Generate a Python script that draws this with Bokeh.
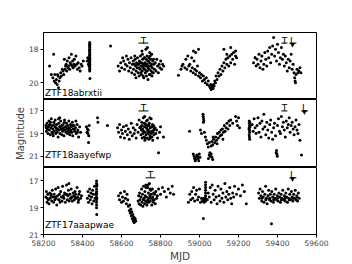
from bokeh.plotting import figure
from bokeh.layouts import column
from bokeh.models import Range1d, FixedTicker, Label
from bokeh.embed import file_html
from bokeh.resources import INLINE

# ---------------- data ----------------
top_points = [
    (58231, 19.0), (58240, 19.5), (58248, 19.7), (58252, 18.3), (58255, 19.9), (58258, 19.5), (58262, 20.0),
    (58266, 19.8), (58270, 20.1), (58272, 19.5), (58275, 19.6), (58277, 20.3), (58280, 19.9), (58284, 19.7),
    (58288, 19.4), (58292, 19.6), (58296, 19.2), (58300, 19.3), (58304, 19.5), (58307, 18.6), (58310, 19.2),
    (58313, 19.0), (58316, 18.9), (58319, 19.3), (58322, 18.7), (58325, 19.1), (58328, 19.0), (58331, 18.5),
    (58334, 19.2), (58337, 18.8), (58340, 18.9), (58343, 18.3), (58346, 19.0), (58349, 18.7), (58352, 19.1),
    (58355, 18.9), (58358, 18.6), (58362, 19.0), (58366, 18.4), (58370, 18.9), (58374, 19.2), (58378, 18.8),
    (58383, 19.1), (58388, 19.3), (58393, 18.9), (58398, 19.0), (58404, 18.7),
    (58424, 18.7), (58427, 18.5), (58430, 18.9), (58432, 18.6), (58434, 19.0),
    (58437, 17.6), (58437, 17.7), (58437, 17.75), (58437, 17.8), (58437, 17.9), (58437, 18.0), (58437, 18.05),
    (58437, 18.1), (58437, 18.2), (58437, 18.3), (58437, 18.35), (58437, 18.4), (58437, 18.5), (58437, 18.55),
    (58437, 18.6), (58437, 18.7), (58437, 18.75), (58437, 18.8), (58437, 18.9), (58437, 19.0), (58437, 19.1),
    (58437, 19.2), (58437, 19.3), (58438, 19.75),
    (58544, 17.8),
    (58583, 19.0), (58590, 19.3), (58596, 18.8), (58601, 19.1), (58606, 18.5), (58611, 18.7), (58616, 19.2),
    (58620, 18.9), (58625, 18.4), (58629, 19.0), (58633, 18.6), (58637, 19.3), (58641, 18.8), (58645, 19.1),
    (58649, 18.5), (58653, 19.4), (58656, 18.9),
    (58660, 18.7), (58662, 19.2), (58665, 18.9), (58667, 19.5), (58670, 18.6), (58672, 19.0), (58675, 19.3),
    (58677, 18.8), (58680, 19.1), (58682, 18.5), (58685, 19.4), (58687, 18.9), (58690, 19.6), (58692, 18.7),
    (58695, 19.2), (58697, 18.4), (58700, 19.0), (58702, 19.5), (58704, 18.8), (58706, 19.3), (58708, 18.6),
    (58710, 19.1), (58712, 18.9), (58714, 19.7), (58716, 18.5), (58718, 19.2), (58720, 18.8), (58722, 19.4),
    (58724, 19.0), (58726, 18.6), (58728, 19.6), (58730, 18.9), (58732, 19.3), (58734, 18.7), (58736, 19.8),
    (58738, 19.0), (58740, 18.5), (58742, 19.2), (58744, 18.8), (58746, 19.5), (58748, 19.0), (58750, 18.6),
    (58752, 19.3), (58754, 18.9), (58756, 19.6), (58758, 19.1), (58760, 18.7), (58763, 19.4), (58766, 18.9),
    (58769, 19.2),
    (58668, 18.4), (58674, 19.7), (58683, 18.9), (58689, 19.1), (58694, 18.8), (58699, 19.4), (58703, 19.0),
    (58707, 18.3), (58711, 19.6), (58715, 19.0), (58719, 18.5), (58723, 18.9), (58727, 19.3), (58731, 18.4),
    (58735, 19.1), (58739, 18.7), (58743, 19.5), (58747, 18.4), (58751, 19.0), (58755, 18.3), (58759, 19.4),
    (58764, 18.6), (58705, 18.1), (58725, 18.0), (58745, 18.2), (58733, 17.9),
    (58773, 18.8), (58777, 19.3), (58781, 18.6), (58785, 19.0), (58789, 19.4), (58793, 18.9), (58797, 19.1),
    (58801, 18.7), (58806, 19.2), (58811, 18.9), (58816, 19.0),
    (58892, 19.55), (58905, 19.2), (58910, 19.0), (58915, 18.9), (58925, 19.1), (58930, 18.6), (58935, 19.2),
    (58940, 18.4), (58945, 19.0), (58950, 18.9), (58955, 19.3), (58960, 18.5), (58963, 19.1), (58968, 19.4),
    (58972, 18.7), (58976, 19.2), (58980, 19.5), (58985, 19.3), (58990, 19.0), (58995, 19.6), (59000, 19.4),
    (59005, 19.7), (59010, 19.5), (59015, 19.9), (59020, 19.6), (59025, 19.8), (59030, 20.0), (59035, 19.7),
    (59040, 20.1), (59045, 19.9), (59050, 20.2), (59055, 20.3), (59058, 20.1), (59060, 20.4), (59063, 20.3),
    (59066, 20.2), (59070, 20.35), (59072, 20.1), (59075, 20.2), (59078, 19.9), (59082, 20.0), (59085, 19.6),
    (59090, 19.8), (59095, 19.4), (59100, 19.6), (59105, 19.2), (59110, 19.5), (59115, 19.0), (59120, 19.3),
    (59125, 18.8), (59130, 19.1), (59135, 18.6), (59140, 18.9), (59145, 18.5), (59150, 19.0), (59155, 18.4),
    (59160, 18.8), (59165, 18.3), (59170, 18.6), (59175, 18.2), (59180, 18.9), (59185, 18.4),
    (58969, 18.1), (58980, 18.2), (58995, 18.0), (59125, 18.0), (59140, 18.3), (59160, 17.9), (59185, 18.1),
    (59190, 18.5),
    (59277, 18.8), (59285, 18.5), (59290, 19.0), (59295, 18.6), (59300, 18.9), (59305, 18.3), (59310, 19.1),
    (59315, 18.7), (59320, 18.4), (59325, 19.2), (59330, 18.9), (59335, 18.2), (59340, 18.6), (59345, 19.0),
    (59350, 18.1), (59355, 18.5), (59360, 17.9), (59365, 18.8), (59370, 18.3), (59375, 17.8), (59380, 17.3),
    (59385, 18.4), (59390, 18.0), (59395, 18.7), (59400, 17.7), (59405, 18.2), (59410, 18.9), (59415, 18.5),
    (59420, 17.9), (59425, 18.6), (59430, 18.3), (59435, 19.0), (59440, 18.4), (59445, 18.8), (59450, 19.3),
    (59455, 18.6), (59460, 19.1), (59465, 18.7), (59470, 18.3), (59475, 19.2), (59480, 18.9), (59485, 19.4),
    (59488, 19.7), (59490, 19.9), (59492, 20.0), (59495, 19.5), (59500, 19.2), (59505, 19.4), (59510, 19.3),
    (59515, 19.1), (59520, 19.4),
]

mid_points = [
    (58212, 18.3), (58215, 18.8), (58218, 18.1), (58220, 18.6), (58223, 19.0), (58225, 18.4), (58228, 17.9),
    (58230, 18.7), (58233, 18.2), (58235, 19.1), (58238, 18.5), (58240, 17.7), (58243, 18.9), (58245, 18.3),
    (58248, 18.6), (58250, 19.2), (58253, 18.0), (58255, 18.8), (58258, 18.4), (58260, 17.8), (58263, 19.0),
    (58265, 18.5), (58268, 18.2), (58270, 18.9), (58273, 18.6), (58275, 19.3), (58278, 18.1), (58280, 18.7),
    (58283, 18.4), (58285, 19.0), (58288, 17.9), (58290, 18.6), (58293, 18.3), (58295, 19.1), (58298, 18.8),
    (58300, 18.2), (58303, 18.5), (58305, 19.2), (58308, 17.8), (58310, 18.7), (58313, 18.4), (58315, 18.9),
    (58318, 18.1), (58320, 18.6), (58323, 19.0), (58325, 18.3), (58328, 18.8), (58330, 17.9), (58333, 18.5),
    (58335, 19.1), (58338, 18.2), (58340, 18.7), (58343, 18.4), (58345, 18.9), (58348, 18.0), (58350, 19.2),
    (58353, 18.6), (58356, 18.3), (58360, 18.8), (58364, 18.5), (58368, 19.0), (58372, 18.2), (58376, 18.7),
    (58380, 19.3), (58385, 18.4), (58390, 18.9),
    (58214, 18.5), (58227, 18.3), (58236, 18.0), (58247, 19.0), (58257, 18.2), (58267, 18.7), (58277, 17.7),
    (58287, 18.4), (58297, 18.6), (58307, 18.0), (58317, 18.4), (58327, 18.6), (58337, 18.9), (58347, 18.3),
    (58358, 18.6), (58366, 17.9), (58374, 18.9), (58283, 17.6),
    (58420, 18.4), (58423, 18.9), (58425, 18.6), (58428, 19.0), (58430, 18.7), (58432, 19.2), (58434, 18.3),
    (58431, 19.8), (58477, 17.6), (58479, 18.0), (58528, 18.3),
    (58580, 18.5), (58585, 18.9), (58590, 18.2), (58595, 19.3), (58600, 18.7), (58605, 19.0), (58610, 18.4),
    (58615, 19.4), (58620, 18.8), (58625, 18.3), (58630, 19.1), (58635, 18.6), (58640, 19.5), (58645, 18.9),
    (58650, 18.1), (58655, 19.2), (58660, 18.5), (58665, 19.0), (58670, 18.7), (58675, 19.4), (58680, 18.2),
    (58685, 18.9), (58690, 17.8), (58694, 18.5),
    (58698, 18.4), (58700, 19.1), (58702, 18.7), (58704, 18.0), (58706, 19.4), (58708, 18.6), (58710, 19.0),
    (58712, 17.6), (58714, 18.8), (58716, 19.3), (58718, 18.4), (58720, 19.6), (58722, 18.9), (58724, 18.2),
    (58726, 19.1), (58728, 17.9), (58730, 18.6), (58732, 19.4), (58734, 18.3), (58736, 19.0), (58738, 18.7),
    (58740, 19.5), (58742, 18.1), (58744, 18.9), (58746, 19.2), (58748, 18.5), (58750, 19.0), (58752, 17.7),
    (58754, 18.8), (58756, 19.3), (58758, 18.4), (58760, 19.6), (58762, 18.9), (58764, 18.3), (58766, 19.1),
    (58768, 18.6),
    (58705, 18.3), (58711, 18.9), (58717, 18.1), (58723, 19.4), (58729, 18.5), (58735, 18.8), (58741, 18.3),
    (58747, 19.4), (58753, 18.9), (58759, 18.2), (58765, 18.7), (58719, 17.5), (58733, 17.8), (58745, 17.6),
    (58772, 18.5), (58776, 19.0), (58780, 18.7), (58785, 19.4), (58790, 20.7), (58795, 18.9), (58800, 18.4),
    (58815, 19.3),
    (58949, 18.8),
    (58968, 20.8), (58972, 21.0), (58975, 21.2), (58978, 21.4), (58980, 21.3), (58983, 21.1), (58986, 20.9),
    (58990, 21.0), (58993, 21.2), (58996, 21.4), (58999, 20.8), (59003, 21.1),
    (59046, 21.2), (59050, 20.9), (59053, 20.7), (59056, 21.0), (59060, 20.8), (59064, 21.1), (59068, 21.3),
    (59018, 17.3), (59019, 17.5), (59021, 17.7), (59022, 17.9), (59020, 18.0),
    (59005, 18.7), (59010, 19.0), (59025, 18.9), (59030, 19.3),
    (59035, 19.6), (59040, 19.9), (59045, 20.2), (59050, 19.8),
    (59060, 20.1), (59063, 19.7), (59068, 20.0), (59072, 19.5), (59078, 19.8), (59083, 19.3), (59087, 19.6),
    (59092, 19.0), (59097, 19.4), (59101, 18.9), (59106, 19.2), (59110, 18.7), (59114, 19.1), (59118, 18.6),
    (59123, 18.9), (59127, 18.3), (59131, 18.8), (59136, 18.5), (59141, 18.1), (59146, 18.6), (59151, 17.9),
    (59155, 18.3), (59070, 19.3), (59090, 19.9), (59120, 19.5),
    (59160, 17.8), (59170, 18.1), (59185, 17.5), (59190, 17.9), (59195, 18.3), (59200, 17.6), (59205, 18.5),
    (59255, 17.9), (59256, 18.1), (59257, 18.3), (59255, 18.5), (59256, 18.7), (59257, 18.9), (59255, 19.1),
    (59256, 19.3), (59257, 19.5), (59258, 18.0), (59254, 18.6), (59259, 18.4),
    (59270, 18.2), (59275, 18.8), (59280, 17.7), (59285, 18.5), (59290, 19.0), (59295, 18.3), (59300, 17.6),
    (59305, 18.9), (59310, 18.1), (59315, 19.3), (59320, 17.9), (59325, 18.6), (59330, 17.3), (59335, 18.4),
    (59340, 19.1), (59345, 18.0), (59350, 18.7), (59355, 19.4), (59360, 18.2), (59365, 17.8), (59370, 18.9),
    (59375, 19.5), (59380, 18.5), (59385, 18.1), (59390, 19.2), (59395, 20.5), (59397, 20.8), (59399, 21.0),
    (59393, 20.7), (59400, 18.3), (59405, 17.7), (59410, 18.8), (59415, 19.0), (59420, 17.5), (59425, 18.4),
    (59430, 18.0), (59435, 18.7), (59440, 19.3), (59445, 17.9), (59450, 18.5), (59455, 18.2), (59460, 17.6),
    (59465, 18.9), (59470, 18.3), (59475, 18.0), (59480, 18.6), (59485, 19.1), (59490, 18.4), (59495, 17.8),
    (59500, 18.7), (59505, 19.0), (59510, 18.2), (59515, 19.6), (59523, 20.9),
]

bot_points = [
    (58212, 18.2), (58215, 17.8), (58218, 18.6), (58222, 18.0), (58225, 18.4), (58228, 18.7), (58232, 17.9),
    (58235, 18.3), (58238, 18.1), (58242, 18.5), (58245, 17.7), (58248, 18.2), (58252, 18.6), (58255, 18.0),
    (58258, 18.4), (58262, 17.6), (58265, 18.3), (58268, 18.8), (58272, 18.1), (58275, 17.5), (58278, 18.4),
    (58282, 18.0), (58285, 18.6), (58288, 17.8), (58292, 18.2), (58295, 18.5), (58298, 17.4), (58302, 18.1),
    (58305, 18.3), (58308, 17.9), (58312, 18.6), (58315, 18.0), (58318, 17.3), (58322, 18.4), (58325, 18.1),
    (58328, 17.7), (58332, 18.5), (58335, 18.0), (58338, 18.3), (58342, 17.6), (58345, 18.2), (58348, 18.5),
    (58352, 17.9), (58355, 18.1), (58358, 18.4), (58362, 17.8), (58365, 18.0), (58368, 18.3), (58372, 17.5),
    (58375, 18.2), (58378, 18.6), (58382, 18.0), (58385, 17.8), (58390, 18.3), (58395, 18.1),
    (58220, 18.3), (58240, 18.0), (58260, 18.2), (58280, 18.4), (58300, 18.2), (58320, 18.0), (58340, 18.3),
    (58360, 18.2), (58380, 18.4), (58330, 17.2),
    (58425, 18.3), (58428, 17.8), (58431, 18.6), (58434, 18.1), (58437, 17.6), (58440, 18.4), (58443, 17.9),
    (58446, 18.2), (58449, 18.7), (58452, 17.7), (58455, 18.0), (58458, 18.5), (58461, 17.4), (58464, 18.3),
    (58467, 18.0),
    (58472, 17.0), (58472, 17.2), (58472, 17.4), (58472, 17.6), (58472, 17.8), (58472, 18.0), (58472, 18.2),
    (58472, 18.4), (58472, 18.6), (58472, 18.8), (58472, 19.0), (58473, 19.5), (58474, 17.3), (58471, 17.9),
    (58474, 18.3),
    (58585, 18.1), (58590, 18.4), (58595, 17.9), (58600, 18.6), (58605, 18.2), (58610, 18.5), (58615, 17.8),
    (58620, 18.3), (58625, 18.7), (58628, 18.0), (58632, 18.4),
    (58635, 18.9), (58640, 19.2), (58642, 18.8), (58645, 19.4), (58648, 19.1), (58650, 19.6), (58653, 19.3),
    (58655, 19.8), (58658, 19.5), (58660, 20.0), (58663, 19.7), (58665, 20.1), (58668, 19.9), (58670, 19.8),
    (58673, 20.0), (58662, 19.9),
    (58685, 18.5), (58688, 18.1), (58690, 18.7), (58693, 17.9), (58695, 18.4), (58698, 18.8), (58700, 18.2),
    (58703, 17.6), (58705, 18.6), (58708, 18.0), (58710, 18.9), (58713, 17.4), (58715, 18.3), (58718, 18.7),
    (58720, 17.8), (58723, 18.5), (58725, 17.3), (58728, 18.2), (58730, 18.8), (58733, 17.5), (58735, 18.4),
    (58738, 17.9), (58740, 18.6), (58743, 17.2), (58745, 18.1), (58748, 18.5), (58750, 17.7), (58753, 18.3),
    (58755, 18.8), (58758, 17.6), (58760, 18.2), (58763, 18.6), (58765, 17.9), (58768, 18.4), (58770, 18.0),
    (58773, 18.7), (58776, 17.8), (58780, 18.3), (58784, 18.1),
    (58712, 18.4), (58722, 18.1), (58732, 18.6), (58742, 18.3), (58752, 18.0), (58762, 18.4), (58726, 17.5),
    (58736, 17.3), (58746, 17.6),
    (58790, 17.6), (58800, 18.0), (58810, 17.5), (58820, 17.8), (58830, 18.2), (58840, 17.6), (58850, 17.9),
    (58860, 17.4), (58867, 18.0),
    (58943, 18.6), (58950, 18.0), (58955, 18.4), (58960, 17.8), (58965, 18.3), (58970, 17.5), (58975, 18.5),
    (58980, 18.0), (58985, 17.7), (58990, 18.4), (58995, 18.2), (59000, 17.6), (59005, 18.6), (59010, 18.3),
    (59015, 18.5), (59018, 18.4), (59020, 18.5), (59022, 18.3), (59024, 18.6), (59026, 18.4), (59020, 19.8),
    (59031, 17.1), (59031, 17.3), (59031, 17.5), (59031, 17.7), (59031, 17.9), (59031, 18.1), (59031, 18.3),
    (59031, 18.5),
    (59040, 18.4), (59045, 17.9), (59050, 18.2), (59055, 17.5), (59060, 18.6), (59065, 17.3), (59070, 18.0),
    (59075, 18.4), (59080, 17.7), (59085, 18.2), (59090, 18.7), (59095, 17.4), (59100, 18.1), (59105, 18.5),
    (59110, 17.6), (59115, 18.3), (59120, 17.9), (59125, 18.6), (59130, 17.2), (59135, 18.2), (59140, 17.8),
    (59145, 18.4), (59150, 18.0), (59155, 17.5), (59160, 18.3), (59165, 18.7), (59170, 17.9), (59175, 18.2),
    (59180, 17.4), (59190, 18.0), (59200, 17.6), (59210, 18.1), (59220, 17.3), (59230, 17.8), (59240, 18.7),
    (59303, 17.9), (59307, 18.3), (59311, 17.6), (59315, 18.1), (59319, 18.5), (59323, 17.8), (59327, 18.2),
    (59331, 18.6), (59335, 18.0), (59339, 17.4), (59343, 18.3), (59347, 18.7), (59351, 18.1), (59355, 17.7),
    (59359, 18.4), (59363, 18.0), (59367, 18.5), (59371, 17.8), (59375, 18.2), (59379, 18.6), (59383, 18.0),
    (59387, 18.3), (59391, 17.6), (59395, 18.4), (59399, 18.1), (59403, 18.5), (59407, 17.9), (59411, 18.2),
    (59415, 18.6), (59419, 18.0), (59423, 18.3), (59427, 17.7), (59431, 18.4), (59435, 18.1), (59439, 18.5),
    (59443, 17.9), (59447, 18.2), (59451, 18.6), (59455, 17.6), (59459, 18.3), (59463, 18.0), (59467, 18.4),
    (59471, 17.8), (59475, 18.2), (59479, 18.5), (59483, 18.0), (59487, 18.3), (59491, 17.7), (59495, 18.4),
    (59499, 18.1), (59503, 18.5), (59507, 17.9), (59511, 18.3), (59369, 20.2),
    (59320, 18.3), (59340, 18.4), (59360, 18.3), (59380, 18.4), (59400, 18.3), (59420, 18.4), (59440, 18.3),
    (59460, 18.4), (59480, 18.3), (59500, 18.2),
]

names = ["ZTF18abrxtii", "ZTF18aayefwp", "ZTF17aaapwae"]
y_ranges = [(21, 17), (22, 16), (21, 16)]
y_ticks = [[18, 20], [17, 19, 21], [17, 19, 21]]
x_ticks = [58200, 58400, 58600, 58800, 59000, 59200, 59400, 59600]
name_mag = [20.64, 20.94, 20.3]

# T / L markers: (label, center mjd, bar start, bar end)
marks = [
    [("T", 58713, 58687, 58738), ("T", 59436, 59420, 59451), ("L", 59477, 59461, 59497)],
    [("T", 58713, 58687, 58738), ("T", 59436, 59420, 59451), ("L", 59538, 59522, 59556)],
    [("T", 58749, 58723, 58774), ("L", 59477, 59461, 59497)],
]
mark_text_mag = [17.48, 16.79, 16.59]
mark_bar_mag = [17.63, 17.01, 16.77]
arrow_mag = [17.72, 17.09, 16.85]

FONT = "DejaVu Sans"
x_range = Range1d(58200, 59600)

panels = [top_points, mid_points, bot_points]
heights = [99, 68, 97]
figs = []
for i in range(3):
    last = (i == 2)
    p = figure(width=352, height=heights[i], x_range=x_range,
               y_range=Range1d(*y_ranges[i]), output_backend="svg",
               toolbar_location=None,
               x_axis_location="below" if last else None,
               min_border_left=43, min_border_right=36,
               min_border_top=32 if i == 0 else 0,
               min_border_bottom=0)
    p.outline_line_color = "black"
    p.outline_line_width = 1
    p.xgrid.visible = False
    p.ygrid.visible = False
    p.background_fill_color = "white"
    p.border_fill_color = "white"

    ya = p.yaxis[0]
    ya.ticker = FixedTicker(ticks=y_ticks[i])
    ya.minor_tick_line_color = None
    ya.major_tick_in = 0
    ya.major_tick_out = 3
    ya.major_label_text_font = FONT
    ya.major_label_text_font_size = "7.5px"
    ya.major_label_standoff = 2
    ya.axis_line_color = "black"
    ya.axis_label = "Magnitude" if i == 1 else " "
    ya.axis_label_text_font = FONT
    ya.axis_label_text_font_size = "10px"
    ya.axis_label_text_font_style = "normal"
    ya.axis_label_standoff = 0

    if last:
        xa = p.xaxis[0]
        xa.ticker = FixedTicker(ticks=x_ticks)
        xa.minor_tick_line_color = None
        xa.major_tick_in = 0
        xa.major_tick_out = 3
        xa.major_label_text_font = FONT
        xa.major_label_text_font_size = "7.5px"
        xa.major_label_standoff = 2
        xa.axis_label = "MJD"
        xa.axis_label_text_font = FONT
        xa.axis_label_text_font_size = "10.5px"
        xa.axis_label_text_font_style = "normal"
        xa.axis_label_standoff = 1

    pts = panels[i]
    p.scatter([a for a, b in pts], [b for a, b in pts], size=3, color="black", line_width=0)

    mk = marks[i]
    p.text([m[1] for m in mk], [mark_text_mag[i]] * len(mk), text=[m[0] for m in mk],
           text_font_size="9px", text_align="center", text_baseline="alphabetic",
           text_color="black", text_font={"value": FONT})
    p.segment([m[2] for m in mk], [mark_bar_mag[i]] * len(mk), [m[3] for m in mk],
              [mark_bar_mag[i]] * len(mk), line_color="black", line_width=1)
    lm = [m for m in mk if m[0] == "L"]
    p.scatter([m[1] for m in lm], [arrow_mag[i]] * len(lm), marker="inverted_triangle",
              size=5, color="black", line_width=0)

    p.add_layout(Label(x=58208, y=name_mag[i], text=names[i], text_font=FONT,
                       text_font_size="9px", text_baseline="middle", text_align="left",
                       text_color="black"))
    figs.append(p)

layout = column(*figs, spacing=0)
open("out.html", "w").write(file_html(layout, INLINE))
